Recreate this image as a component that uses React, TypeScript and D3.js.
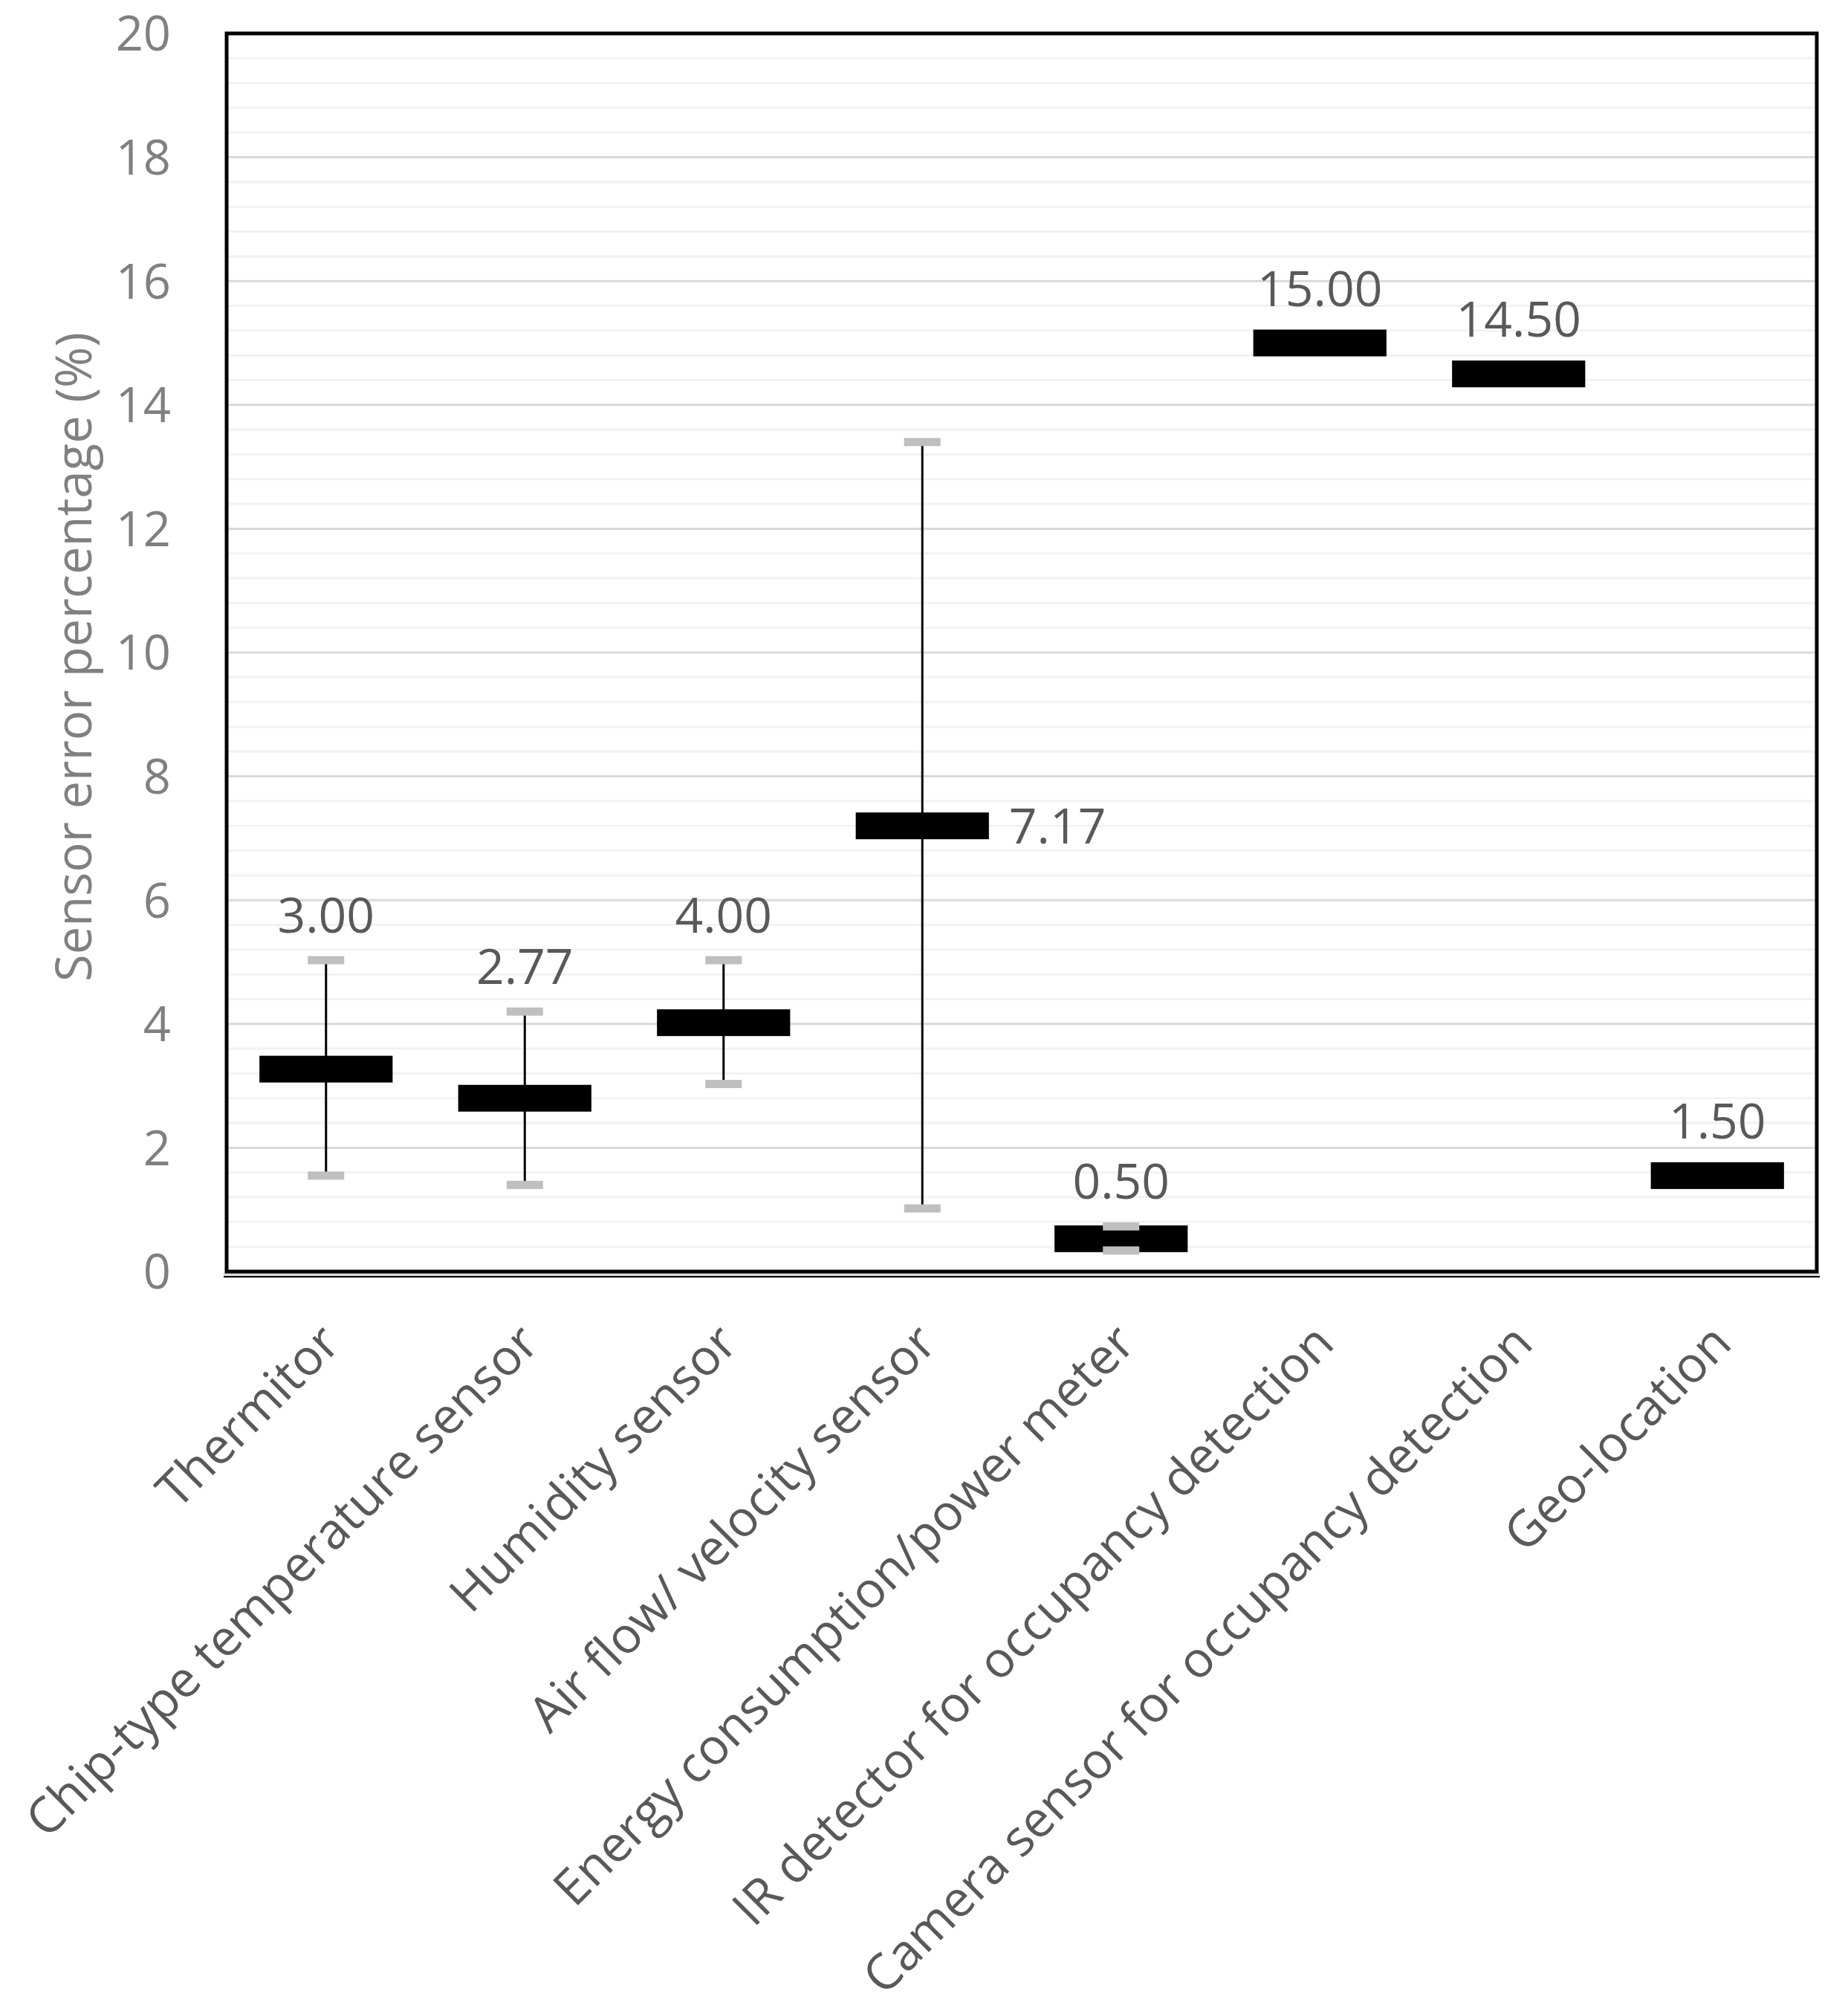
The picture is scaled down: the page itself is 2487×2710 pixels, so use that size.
import * as d3 from "d3";

const categories = [
  "Thermitor",
  "Chip-type temperature sensor",
  "Humidity sensor",
  "Air flow/ velocity sensor",
  "Energy consumption/power meter",
  "IR detector for occupancy detection",
  "Camera sensor for occupancy detection",
  "Geo-location",
];
// value shown in the data label
const labelValues = [3.0, 2.77, 4.0, 7.17, 0.5, 15.0, 14.5, 1.5];
// centre of the black box (midpoint of the range where there is one)
const boxCenters = [3.27, 2.8, 4.02, 7.2, 0.53, 15.0, 14.5, 1.55];
// high / low ends of the error range (null = none)
const highs: (number | null)[] = [5.03, 4.2, 5.03, 13.4, 0.73, null, null, null];
const lows: (number | null)[] = [1.55, 1.4, 3.03, 1.02, 0.34, null, null, null];
const yTicks = [0, 2, 4, 6, 8, 10, 12, 14, 16, 18, 20];

const App = () => {
  const width = 2487;
  const height = 2710;
  const left = 305;
  const right = 2445;
  const top = 45;
  const bottom = 1711;
  const font = "'Open Sans', sans-serif";

  const x = d3.scaleBand(categories, [left, right]);
  const y = d3.scaleLinear([0, 20], [bottom, top]);
  const bw = x.bandwidth();
  const boxW = bw * 0.67;
  const boxH = 36;
  const capW = 49;
  const capH = 11;

  const minor = d3.range(0, 20.001, 0.4).filter((v) => v > 0 && v < 20);

  return (
    <div style={{ position: "absolute", left: 0, top: 0 }}>
      <svg width={width} height={height} style={{ display: "block", background: "#fff" }}>
        {/* gridlines */}
        <g>
          {minor.map((v) => {
            const isMajor = Math.abs(v / 2 - Math.round(v / 2)) < 1e-6;
            return (
              <line
                key={v}
                x1={left}
                x2={right}
                y1={y(v)}
                y2={y(v)}
                stroke={isMajor ? "#d9d9d9" : "#f2f2f2"}
                strokeWidth={3}
              />
            );
          })}
        </g>

        {/* bottom axis double line */}
        <line x1={left - 4} x2={right + 4} y1={bottom + 4} y2={bottom + 4} stroke="#d9d9d9" strokeWidth={4} />
        <line x1={left - 4} x2={right + 4} y1={bottom + 7} y2={bottom + 7} stroke="#000" strokeWidth={2} />

        {/* plot border */}
        <rect x={left} y={top} width={right - left} height={bottom - top} fill="none" stroke="#000" strokeWidth={5} />

        {/* y tick labels */}
        <g fontFamily={font} fontSize={65} fill="#808080" textAnchor="end">
          {yTicks.map((t) => (
            <text key={t} x={230} y={y(t)} dy="0.36em">
              {t}
            </text>
          ))}
        </g>

        {/* y axis title */}
        <text
          transform={`translate(123, ${(top + bottom) / 2 + 6}) rotate(-90)`}
          textAnchor="middle"
          fontFamily={font}
          fontSize={67}
          fill="#808080"
        >
          Sensor error percentage (%)
        </text>

        {/* whisker lines */}
        <g>
          {categories.map((c, i) => {
            const hi = highs[i];
            const lo = lows[i];
            if (hi == null || lo == null) return null;
            const cx = (x(c) ?? 0) + bw / 2;
            return <line key={c} x1={cx} x2={cx} y1={y(hi)} y2={y(lo)} stroke="#000" strokeWidth={3} />;
          })}
        </g>

        {/* boxes */}
        <g>
          {categories.map((c, i) => {
            const cx = (x(c) ?? 0) + bw / 2;
            return (
              <rect key={c} x={cx - boxW / 2} y={y(boxCenters[i]) - boxH / 2} width={boxW} height={boxH} fill="#000" />
            );
          })}
        </g>

        {/* caps */}
        <g fill="#bfbfbf">
          {categories.map((c, i) => {
            const hi = highs[i];
            const lo = lows[i];
            if (hi == null || lo == null) return null;
            const cx = (x(c) ?? 0) + bw / 2;
            return (
              <g key={c}>
                <rect x={cx - capW / 2} y={y(hi) - capH / 2} width={capW} height={capH} />
                <rect x={cx - capW / 2} y={y(lo) - capH / 2} width={capW} height={capH} />
              </g>
            );
          })}
        </g>

        {/* data labels */}
        <g fontFamily={font} fontSize={66} fill="#595959">
          {categories.map((c, i) => {
            const cx = (x(c) ?? 0) + bw / 2;
            const hi = highs[i];
            const txt = labelValues[i].toFixed(2);
            // long range: label sits beside the box
            if (hi != null && hi - boxCenters[i] > 3) {
              return (
                <text key={c} x={cx + boxW / 2 + 27} y={y(boxCenters[i])} dy="0.36em" textAnchor="start">
                  {txt}
                </text>
              );
            }
            const topY = Math.min(y(boxCenters[i]) - boxH / 2, hi != null ? y(hi) - capH / 2 : Infinity);
            return (
              <text key={c} x={cx} y={topY - 32} textAnchor="middle">
                {txt}
              </text>
            );
          })}
        </g>

        {/* category labels */}
        <g fontFamily={font} fontSize={67} fill="#595959" textAnchor="end">
          {categories.map((c) => {
            const cx = (x(c) ?? 0) + bw / 2;
            return (
              <text key={c} transform={`translate(${cx + 22}, ${bottom + 100}) rotate(-45)`}>
                {c}
              </text>
            );
          })}
        </g>
      </svg>
    </div>
  );
};

export default App;
